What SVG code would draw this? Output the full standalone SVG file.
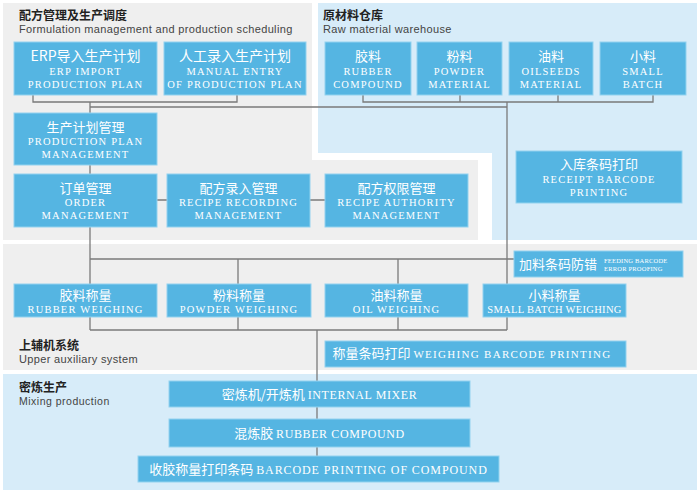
<svg xmlns="http://www.w3.org/2000/svg" width="700" height="492" viewBox="0 0 700 492">
<style>
.gray{fill:#efefef}
.lb{fill:#d7ecf9}
.box{fill:#55b5e2;stroke:#93d2ef;stroke-width:1}
.ln{fill:none;stroke:#7a7a7a;stroke-width:1.3}
.cn{font-family:"Noto Sans CJK SC","Noto Sans",sans-serif;font-size:13px;fill:#fff;text-anchor:middle}
.en{font-family:"Liberation Serif","DejaVu Serif",serif;font-size:10.5px;fill:#fff;text-anchor:middle;letter-spacing:1.2px}
.mx{font-family:"Noto Sans CJK SC","Noto Sans",sans-serif;font-size:13px;fill:#fff;text-anchor:middle}
.mxe{font-family:"Liberation Serif","DejaVu Serif",serif;font-size:12px;letter-spacing:0.6px}
.tt{font-family:"Noto Sans CJK SC","Noto Sans",sans-serif;font-size:12px;font-weight:bold;fill:#222}
.st{font-family:"Liberation Sans","Arial",sans-serif;font-size:11px;fill:#444;letter-spacing:0.35px}
.tiny{font-family:"Liberation Serif",serif;font-size:6.5px;fill:#fff;letter-spacing:0.2px}
</style>
<rect width="700" height="492" fill="#fff"/>
<g id="panels">
<polygon class="gray" points="3,3 312,3 312,160 478,160 478,240 3,240"/>
<polygon class="lb" points="318,3 697,3 697,240 492,240 492,153 318,153"/>
<rect class="gray" x="3" y="244" width="694" height="126"/>
<rect class="lb" x="3" y="374" width="694" height="116"/>
</g>
<g id="titles">
<text class="tt" x="19" y="20">配方管理及生产调度</text>
<text class="st" x="19" y="33">Formulation management and production scheduling</text>
<text class="tt" x="323" y="20">原材料仓库</text>
<text class="st" x="323" y="33">Raw material warehouse</text>
<text class="tt" x="19" y="350">上辅机系统</text>
<text class="st" x="19" y="363">Upper auxiliary system</text>
<text class="tt" x="19" y="392">密炼生产</text>
<text class="st" x="19" y="405" style="font-size:10.5px;letter-spacing:0.5px">Mixing production</text>
</g>
<g id="connectors">
<polyline class="ln" points="33,95 33,102 237,102 237,95"/>
<polyline class="ln" points="363,95 363,102 653,102 653,95"/>
<line class="ln" x1="460" y1="95" x2="460" y2="102"/>
<line class="ln" x1="558" y1="95" x2="558" y2="102"/>
<line class="ln" x1="90" y1="102" x2="90" y2="113"/>
<line class="ln" x1="90" y1="107" x2="507" y2="107"/>
<line class="ln" x1="507" y1="102" x2="507" y2="330"/>
<line class="ln" x1="90" y1="165" x2="90" y2="174"/>
<line class="ln" x1="157" y1="200" x2="325" y2="200"/>
<line class="ln" x1="90" y1="227" x2="90" y2="330"/>
<line class="ln" x1="90" y1="259" x2="514" y2="259"/>
<line class="ln" x1="238" y1="259" x2="238" y2="330"/>
<line class="ln" x1="398" y1="259" x2="398" y2="330"/>
<line class="ln" x1="90" y1="330" x2="507" y2="330"/>
<line class="ln" x1="317" y1="330" x2="317" y2="456"/>
</g>
<g id="n-erp">
<rect class="box" x="14" y="42" width="143" height="53"/>
<text class="cn" x="85.5" y="61" style="font-size:14px">ERP导入生产计划</text>
<text class="en" x="85.5" y="75">ERP IMPORT</text>
<text class="en" x="85.5" y="88">PRODUCTION PLAN</text>
</g>
<g id="n-manual">
<rect class="box" x="164" y="42" width="142" height="53"/>
<text class="cn" x="235" y="61" style="font-size:14px">人工录入生产计划</text>
<text class="en" x="235" y="75">MANUAL ENTRY</text>
<text class="en" x="235" y="88">OF  PRODUCTION PLAN</text>
</g>
<g id="n-rubber">
<rect class="box" x="325" y="42" width="86" height="53"/>
<text class="cn" x="368" y="61">胶料</text>
<text class="en" x="368" y="75">RUBBER</text>
<text class="en" x="368" y="88">COMPOUND</text>
</g>
<g id="n-powder">
<rect class="box" x="417" y="42" width="85" height="53"/>
<text class="cn" x="459.5" y="61">粉料</text>
<text class="en" x="459.5" y="75">POWDER</text>
<text class="en" x="459.5" y="88">MATERIAL</text>
</g>
<g id="n-oil">
<rect class="box" x="509" y="42" width="84" height="53"/>
<text class="cn" x="551" y="61">油料</text>
<text class="en" x="551" y="75">OILSEEDS</text>
<text class="en" x="551" y="88">MATERIAL</text>
</g>
<g id="n-small">
<rect class="box" x="600" y="42" width="86" height="53"/>
<text class="cn" x="643" y="61">小料</text>
<text class="en" x="643" y="75">SMALL</text>
<text class="en" x="643" y="88">BATCH</text>
</g>
<g id="n-ppm">
<rect class="box" x="14" y="113" width="143" height="52"/>
<text class="cn" x="85.5" y="132">生产计划管理</text>
<text class="en" x="85.5" y="145">PRODUCTION PLAN</text>
<text class="en" x="85.5" y="158">MANAGEMENT</text>
</g>
<g id="n-order">
<rect class="box" x="14" y="174" width="143" height="53"/>
<text class="cn" x="85.5" y="193">订单管理</text>
<text class="en" x="85.5" y="206">ORDER</text>
<text class="en" x="85.5" y="219">MANAGEMENT</text>
</g>
<g id="n-recipe-rec">
<rect class="box" x="167" y="174" width="143" height="53"/>
<text class="cn" x="238.5" y="193">配方录入管理</text>
<text class="en" x="238.5" y="206">RECIPE RECORDING</text>
<text class="en" x="238.5" y="219">MANAGEMENT</text>
</g>
<g id="n-recipe-auth">
<rect class="box" x="325" y="174" width="143" height="53"/>
<text class="cn" x="396.5" y="193">配方权限管理</text>
<text class="en" x="396.5" y="206">RECIPE AUTHORITY</text>
<text class="en" x="396.5" y="219">MANAGEMENT</text>
</g>
<g id="n-receipt">
<rect class="box" x="516" y="151" width="166" height="52"/>
<text class="cn" x="599" y="169">入库条码打印</text>
<text class="en" x="599" y="183">RECEIPT BARCODE</text>
<text class="en" x="599" y="196">PRINTING</text>
</g>
<g id="n-feeding">
<rect class="box" x="514" y="251" width="169" height="26"/>
<text class="cn" x="519" y="269" style="text-anchor:start">加料条码防错</text>
<text class="tiny" x="604" y="263">FEEDING BARCODE</text>
<text class="tiny" x="604" y="271">ERROR PROOFING</text>
</g>
<g id="n-rw">
<rect class="box" x="14" y="284" width="143" height="33"/>
<text class="cn" x="85.5" y="300">胶料称量</text>
<text class="en" x="85.5" y="313">RUBBER WEIGHING</text>
</g>
<g id="n-pw">
<rect class="box" x="167" y="284" width="144" height="33"/>
<text class="cn" x="239" y="300">粉料称量</text>
<text class="en" x="239" y="313">POWDER WEIGHING</text>
</g>
<g id="n-ow">
<rect class="box" x="325" y="284" width="143" height="33"/>
<text class="cn" x="396.5" y="300">油料称量</text>
<text class="en" x="396.5" y="313">OIL WEIGHING</text>
</g>
<g id="n-sw">
<rect class="box" x="483" y="284" width="143" height="33"/>
<text class="cn" x="554.5" y="300">小料称量</text>
<text class="en" x="554.5" y="313" style="letter-spacing:0.3px">SMALL BATCH WEIGHING</text>
</g>
<g id="n-wbp">
<rect class="box" x="325" y="341" width="301" height="26"/>
<text class="mx" x="472" y="358">称量条码打印 <tspan class="mxe" style="font-size:11px;letter-spacing:1.3px">WEIGHING BARCODE PRINTING</tspan></text>
</g>
<g id="n-mixer">
<rect class="box" x="169" y="381" width="301" height="26"/>
<text class="mx" x="319.5" y="399">密炼机/开炼机 <tspan class="mxe">INTERNAL MIXER</tspan></text>
</g>
<g id="n-compound">
<rect class="box" x="169" y="419" width="301" height="28"/>
<text class="mx" x="319.5" y="438">混炼胶 <tspan class="mxe">RUBBER COMPOUND</tspan></text>
</g>
<g id="n-barcode">
<rect class="box" x="138" y="456" width="361" height="26"/>
<text class="mx" x="318.5" y="474">收胶称量打印条码 <tspan class="mxe" style="letter-spacing:0.9px">BARCODE PRINTING OF COMPOUND</tspan></text>
</g>
</svg>
